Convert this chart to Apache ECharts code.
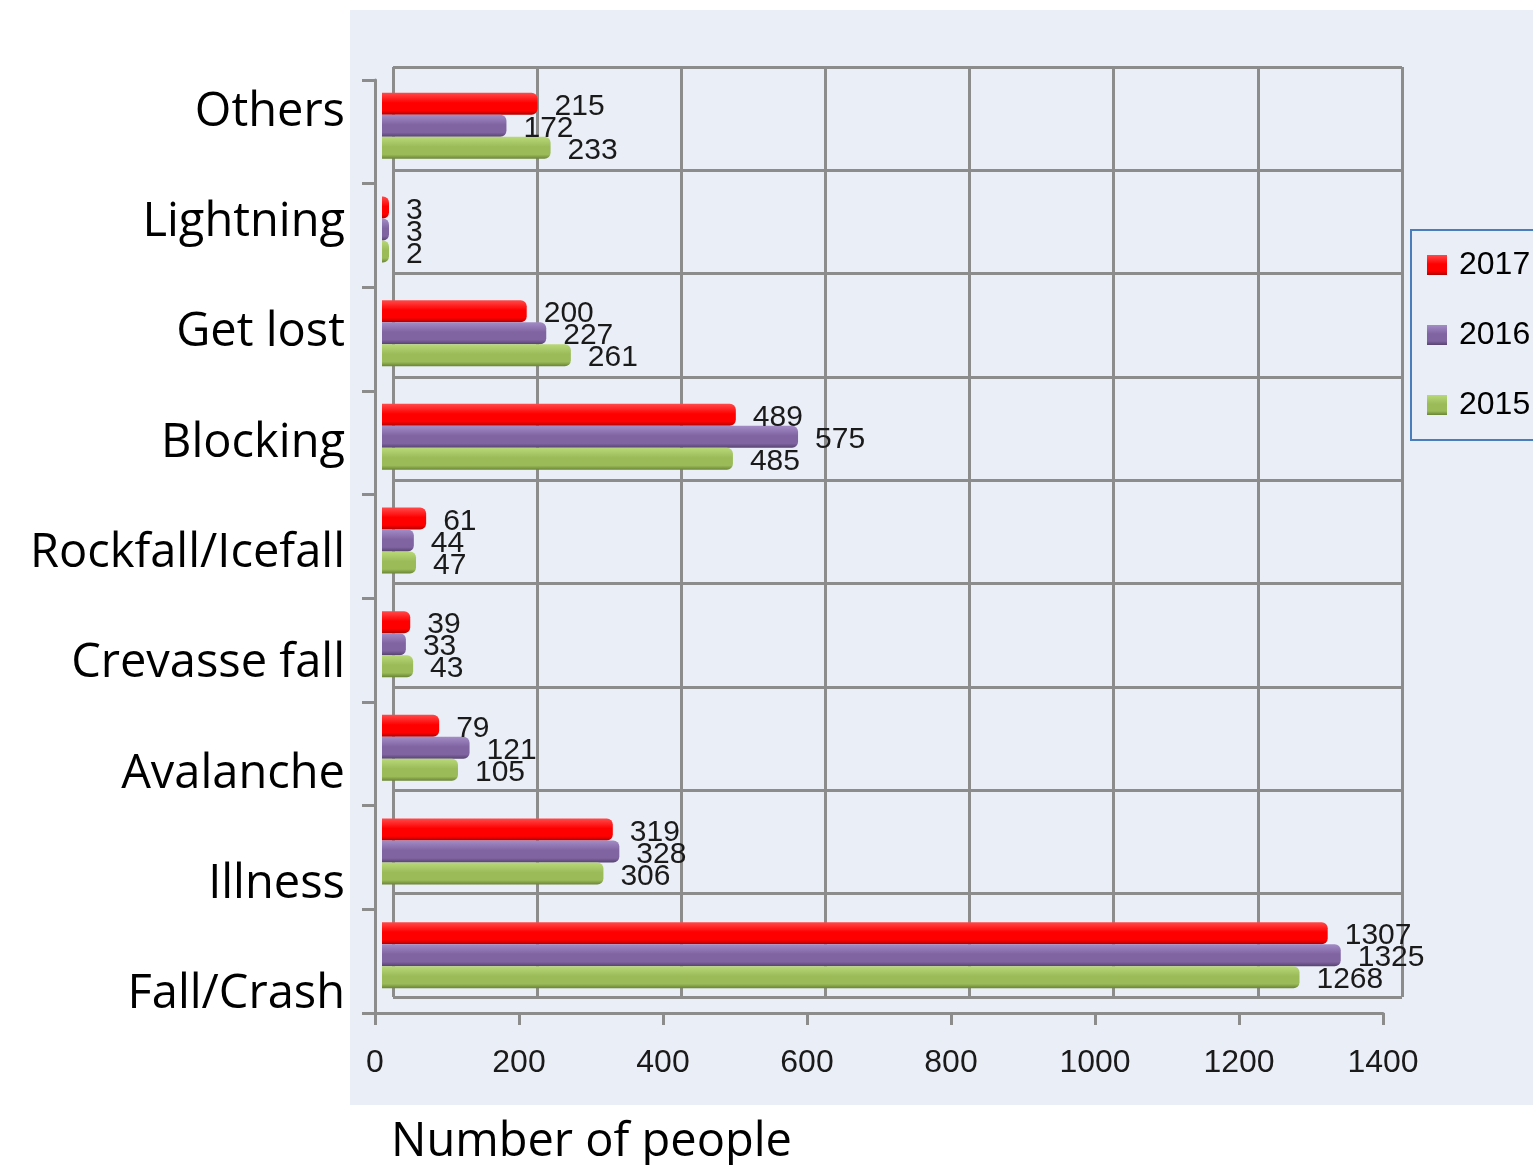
<!DOCTYPE html>
<html>
<head>
<meta charset="utf-8">
<script src="https://cdn.jsdelivr.net/npm/echarts@6/dist/echarts.min.js"></script>
<style>
  html, body { margin: 0; padding: 0; background: #fff; }
  #main { width: 1533px; height: 1165px; }
</style>
</head>
<body>
<div id="main"></div>
<script>
// categories, bottom to top
var categories = ['Fall/Crash', 'Illness', 'Avalanche', 'Crevasse fall', 'Rockfall/Icefall', 'Blocking', 'Get lost', 'Lightning', 'Others'];
var years = ['2017', '2016', '2015'];
var v2015 = [1268, 306, 105, 43, 47, 485, 261, 2, 233];
var v2016 = [1325, 328, 121, 33, 44, 575, 227, 3, 172];
var v2017 = [1307, 319, 79, 39, 61, 489, 200, 3, 215];
var xTicks = [0, 200, 400, 600, 800, 1000, 1200, 1400];

var chart = echarts.init(document.getElementById('main'));

// 圆柱效果的渐变
function tube(light, mid, dark) {
    return new echarts.graphic.LinearGradient(0, 0, 0, 1, [
        {offset: 0, color: light},
        {offset: 0.45, color: mid},
        {offset: 0.8, color: mid},
        {offset: 1, color: dark}
    ]);
}

var gridColor = '#8c8c8c';
var valueLabel = {
    show: true,
    position: 'right',
    distance: 17,
    offset: [0, 3],
    color: '#1a1a1a',
    fontFamily: 'Liberation Sans',
    fontSize: 30
};

function barSeries(name, data, fill) {
    return {
        name: name,
        type: 'bar',
        xAxisIndex: 2,
        yAxisIndex: 2,
        data: data,
        barWidth: 22,
        barGap: '0%',
        barMinHeight: 7,
        itemStyle: {color: fill, borderRadius: [0, 6, 6, 0]},
        label: valueLabel
    };
}

var option = {
    backgroundColor: '#fff',
    animation: false,
    graphic: [{
        type: 'rect',
        z: -10,
        shape: {x: 350, y: 10, width: 1183, height: 1095},
        style: {fill: '#EAEEF6'}
    }],
    title: {
        text: 'Number of people',
        left: 386,
        top: 1114,
        textStyle: {fontFamily: 'Open Sans', fontWeight: 'normal', fontSize: 47, color: '#000'}
    },
    legend: {
        orient: 'vertical',
        left: 1411,
        top: 230,
        data: years,
        icon: 'rect',
        itemWidth: 20,
        itemHeight: 20,
        itemGap: 38,
        padding: [19, 40, 19, 16],
        borderColor: '#4a7ebb',
        borderWidth: 2,
        textStyle: {fontFamily: 'Liberation Sans', fontSize: 32, color: '#000', lineHeight: 32, padding: [0, 0, 0, 7]}
    },
    grid: [
        // 后墙
        {left: 393, top: 67, width: 1009, height: 930, show: false},
        // 前轴
        {left: 375, top: 80, width: 1008, height: 933, show: false},
        // 柱子
        {left: 382, top: 74, width: 1013, height: 933, show: false},
        // 分类标签
        {left: 376, top: 57, width: 1000, height: 993, show: false}
    ],
    xAxis: [
        {
            gridIndex: 0, type: 'value', min: 0, max: 1400, interval: 200,
            axisLine: {show: false}, axisTick: {show: false}, axisLabel: {show: false},
            splitLine: {show: true, lineStyle: {color: gridColor, width: 3}}
        },
        {
            gridIndex: 1, type: 'value', min: 0, max: 1400, interval: 200,
            axisLine: {show: true, lineStyle: {color: gridColor, width: 3}},
            axisTick: {show: true, length: 12, lineStyle: {color: gridColor, width: 3}},
            axisLabel: {margin: 34, color: '#1a1a1a', fontFamily: 'Liberation Sans', fontSize: 32,
                formatter: function (v) { return xTicks.indexOf(v) >= 0 ? String(v) : ''; }},
            splitLine: {show: false}
        },
        {
            gridIndex: 2, type: 'value', min: 0, max: 1400, show: false
        },
        {
            gridIndex: 3, type: 'value', min: 0, max: 1400, show: false
        }
    ],
    yAxis: [
        {
            gridIndex: 0, type: 'category', data: categories, boundaryGap: true,
            axisLine: {show: false}, axisTick: {show: false}, axisLabel: {show: false},
            splitLine: {show: true, interval: 0, lineStyle: {color: gridColor, width: 3}}
        },
        {
            gridIndex: 1, type: 'category', data: categories, boundaryGap: true,
            axisLine: {show: true, lineStyle: {color: gridColor, width: 3}},
            axisTick: {show: true, length: 13, interval: 0, lineStyle: {color: gridColor, width: 3}},
            axisLabel: {show: false},
            splitLine: {show: false}
        },
        {
            gridIndex: 2, type: 'category', data: categories, show: false
        },
        {
            gridIndex: 3, type: 'category', data: categories,
            axisLine: {show: false}, axisTick: {show: false},
            axisLabel: {interval: 0, margin: 31, color: '#000', fontFamily: 'Open Sans', fontSize: 47}
        }
    ],
    // 横向柱状图：第一个系列在最上面
    series: [
        barSeries('2017', v2017, tube('#ff4a4a', '#ff0000', '#b00000')),
        barSeries('2016', v2016, tube('#a38cc6', '#8064a2', '#57436f')),
        barSeries('2015', v2015, tube('#b9d878', '#9bbb59', '#6a8535'))
    ]
};

chart.setOption(option);
</script>
</body>
</html>
